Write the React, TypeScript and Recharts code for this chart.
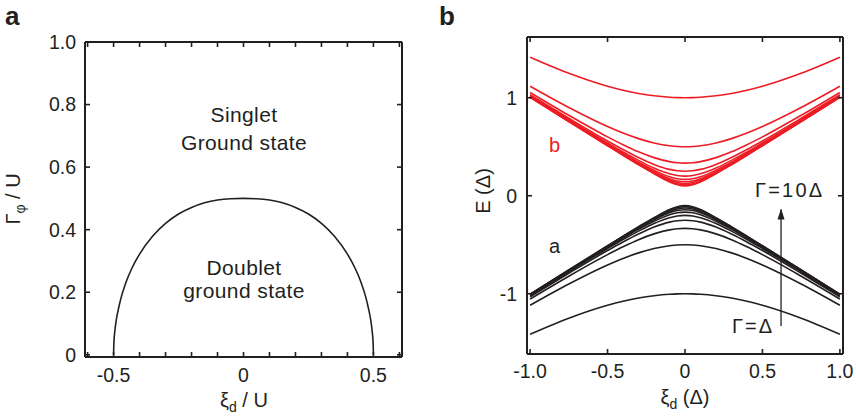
import React from 'react';
import { LineChart, Line, XAxis, YAxis } from 'recharts';

const INK = '#231f20';
const RED = '#ed1c24';
const FONT = '"Liberation Sans", Arial, Helvetica, sans-serif';

// panel a: phase boundary singlet / doublet
const phaseXi = [-0.5, -0.499, -0.495, -0.49, -0.48, -0.47, -0.45, -0.43, -0.4, -0.35, -0.3, -0.25, -0.2, -0.15, -0.1, -0.05, 0, 0.05, 0.1, 0.15, 0.2, 0.25, 0.3, 0.35, 0.4, 0.43, 0.45, 0.47, 0.48, 0.49, 0.495, 0.499, 0.5];
const phaseGamma = [0, 0.035, 0.077, 0.109, 0.152, 0.186, 0.237, 0.276, 0.322, 0.379, 0.42, 0.45, 0.471, 0.486, 0.495, 0.499, 0.5, 0.499, 0.495, 0.486, 0.471, 0.45, 0.42, 0.379, 0.322, 0.276, 0.237, 0.186, 0.152, 0.109, 0.077, 0.035, 0];

const aXTicks = [-0.6, -0.5, -0.4, -0.3, -0.2, -0.1, 0, 0.1, 0.2, 0.3, 0.4, 0.5, 0.6];
const aXLabelValues = [-0.5, 0, 0.5];
const aXLabelTexts = ['-0.5', '0', '0.5'];
const aYTicks = [0, 0.2, 0.4, 0.6, 0.8, 1.0];
const aYLabelTexts = ['0', '0.2', '0.4', '0.6', '0.8', '1.0'];

// panel b: Andreev levels vs ξd for Γ = Δ ... 10Δ
const bXi = [-1, -0.75, -0.5, -0.4, -0.3, -0.2, -0.1, -0.05, 0, 0.05, 0.1, 0.2, 0.3, 0.4, 0.5, 0.75, 1];

const upper1 = [1.414, 1.25, 1.118, 1.077, 1.044, 1.02, 1.005, 1.001, 1.0, 1.001, 1.005, 1.02, 1.044, 1.077, 1.118, 1.25, 1.414];
const upper2 = [1.118, 0.901, 0.707, 0.64, 0.583, 0.539, 0.51, 0.502, 0.5, 0.502, 0.51, 0.539, 0.583, 0.64, 0.707, 0.901, 1.118];
const upper3 = [1.054, 0.821, 0.601, 0.521, 0.448, 0.389, 0.348, 0.337, 0.333, 0.337, 0.348, 0.389, 0.448, 0.521, 0.601, 0.821, 1.054];
const upper4 = [1.031, 0.791, 0.559, 0.472, 0.391, 0.32, 0.269, 0.255, 0.25, 0.255, 0.269, 0.32, 0.391, 0.472, 0.559, 0.791, 1.031];
const upper5 = [1.02, 0.776, 0.539, 0.447, 0.361, 0.283, 0.224, 0.206, 0.2, 0.206, 0.224, 0.283, 0.361, 0.447, 0.539, 0.776, 1.02];
const upper6 = [1.014, 0.768, 0.527, 0.433, 0.343, 0.261, 0.194, 0.174, 0.167, 0.174, 0.194, 0.261, 0.343, 0.433, 0.527, 0.768, 1.014];
const upper7 = [1.01, 0.763, 0.52, 0.425, 0.332, 0.246, 0.174, 0.151, 0.143, 0.151, 0.174, 0.246, 0.332, 0.425, 0.52, 0.763, 1.01];
const upper8 = [1.008, 0.76, 0.515, 0.419, 0.325, 0.236, 0.16, 0.135, 0.125, 0.135, 0.16, 0.236, 0.325, 0.419, 0.515, 0.76, 1.008];
const upper9 = [1.006, 0.758, 0.512, 0.415, 0.32, 0.229, 0.149, 0.122, 0.111, 0.122, 0.149, 0.229, 0.32, 0.415, 0.512, 0.758, 1.006];
const upper10 = [1.005, 0.757, 0.51, 0.412, 0.316, 0.224, 0.141, 0.112, 0.1, 0.112, 0.141, 0.224, 0.316, 0.412, 0.51, 0.757, 1.005];

const lower1 = [-1.414, -1.25, -1.118, -1.077, -1.044, -1.02, -1.005, -1.001, -1.0, -1.001, -1.005, -1.02, -1.044, -1.077, -1.118, -1.25, -1.414];
const lower2 = [-1.118, -0.901, -0.707, -0.64, -0.583, -0.539, -0.51, -0.502, -0.5, -0.502, -0.51, -0.539, -0.583, -0.64, -0.707, -0.901, -1.118];
const lower3 = [-1.054, -0.821, -0.601, -0.521, -0.448, -0.389, -0.348, -0.337, -0.333, -0.337, -0.348, -0.389, -0.448, -0.521, -0.601, -0.821, -1.054];
const lower4 = [-1.031, -0.791, -0.559, -0.472, -0.391, -0.32, -0.269, -0.255, -0.25, -0.255, -0.269, -0.32, -0.391, -0.472, -0.559, -0.791, -1.031];
const lower5 = [-1.02, -0.776, -0.539, -0.447, -0.361, -0.283, -0.224, -0.206, -0.2, -0.206, -0.224, -0.283, -0.361, -0.447, -0.539, -0.776, -1.02];
const lower6 = [-1.014, -0.768, -0.527, -0.433, -0.343, -0.261, -0.194, -0.174, -0.167, -0.174, -0.194, -0.261, -0.343, -0.433, -0.527, -0.768, -1.014];
const lower7 = [-1.01, -0.763, -0.52, -0.425, -0.332, -0.246, -0.174, -0.151, -0.143, -0.151, -0.174, -0.246, -0.332, -0.425, -0.52, -0.763, -1.01];
const lower8 = [-1.008, -0.76, -0.515, -0.419, -0.325, -0.236, -0.16, -0.135, -0.125, -0.135, -0.16, -0.236, -0.325, -0.419, -0.515, -0.76, -1.008];
const lower9 = [-1.006, -0.758, -0.512, -0.415, -0.32, -0.229, -0.149, -0.122, -0.111, -0.122, -0.149, -0.229, -0.32, -0.415, -0.512, -0.758, -1.006];
const lower10 = [-1.005, -0.757, -0.51, -0.412, -0.316, -0.224, -0.141, -0.112, -0.1, -0.112, -0.141, -0.224, -0.316, -0.412, -0.51, -0.757, -1.005];

const upperCurves = [upper1, upper2, upper3, upper4, upper5, upper6, upper7, upper8, upper9, upper10];
const lowerCurves = [lower1, lower2, lower3, lower4, lower5, lower6, lower7, lower8, lower9, lower10];

const arrowXi = [0.62, 0.62];
const arrowE = [-1.33, -0.14];

const bXTicks = [-1, -0.5, 0, 0.5, 1];
const bXLabelTexts = ['-1.0', '-0.5', '0', '0.5', '1.0'];
const bYTicks = [-1, 0, 1];
const bYLabelTexts = ['-1', '0', '1'];

const toPoints = (xs: number[], ys: number[]) => xs.map((x, i) => ({ x, y: ys[i] }));

// label only; the tick marks themselves come from tickLine with a negative tickSize (inward)
const makeLabel =
  (anchor: 'middle' | 'end', values: number[] = [], texts: string[] = []) =>
  (props: any) => {
    const { x, y, payload } = props;
    const i = values.findIndex(v => Math.abs(v - payload.value) < 1e-9);
    if (i < 0) return <g />;
    return (
      <text x={x} y={y} dy="0.35em" textAnchor={anchor} fill={INK} fontSize={19.5} fontFamily={FONT}>
        {texts[i]}
      </text>
    );
  };
const noLabel = () => <g />;

const axisLine = { stroke: INK, strokeWidth: 2 };
const tickLine = { stroke: INK, strokeWidth: 1.6 };

const ArrowHead = (props: any) => {
  const { cx, cy, index } = props;
  if (index !== 1) return <g key={`ah${index}`} />;
  return <polygon key="ahead" points={`${cx},${cy - 1} ${cx - 3.5},${cy + 10} ${cx + 3.5},${cy + 10}`} fill={INK} />;
};

const PanelA = () => (
  <LineChart width={420} height={418} margin={{ top: 41, right: 17, bottom: 21, left: 25 }}>
    <XAxis xAxisId="b" type="number" dataKey="x" domain={[-0.61, 0.61]} allowDataOverflow ticks={aXTicks} interval={0}
      height={40} tickSize={-5} tickMargin={23} tickLine={tickLine} axisLine={axisLine}
      tick={makeLabel('middle', aXLabelValues, aXLabelTexts)} />
    <XAxis xAxisId="t" orientation="top" type="number" dataKey="x" domain={[-0.61, 0.61]} allowDataOverflow ticks={aXTicks} interval={0}
      height={1} tickSize={-5} tickMargin={0} tickLine={tickLine} axisLine={axisLine} tick={noLabel} />
    <YAxis yAxisId="l" type="number" domain={[-0.007, 1.0]} allowDataOverflow ticks={aYTicks} interval={0}
      width={60} tickSize={-5} tickMargin={14} tickLine={tickLine} axisLine={axisLine}
      tick={makeLabel('end', aYTicks, aYLabelTexts)} />
    <YAxis yAxisId="r" orientation="right" type="number" domain={[-0.007, 1.0]} allowDataOverflow ticks={aYTicks} interval={0}
      width={1} tickSize={-5} tickMargin={0} tickLine={tickLine} axisLine={axisLine} tick={noLabel} />
    <Line xAxisId="t" yAxisId="r" data={toPoints(phaseXi, phaseGamma)} dataKey="y" type="monotone"
      stroke="none" dot={false} isAnimationActive={false} />
    <Line xAxisId="b" yAxisId="l" data={toPoints(phaseXi, phaseGamma)} dataKey="y" type="monotone"
      stroke={INK} strokeWidth={1.6} dot={false} isAnimationActive={false} />
  </LineChart>
);

const PanelB = () => (
  <LineChart width={426} height={418} margin={{ top: 36, right: 12, bottom: 24, left: 37 }}>
    <XAxis xAxisId="b" type="number" dataKey="x" domain={[-1.02, 1.02]} allowDataOverflow ticks={bXTicks} interval={0}
      height={40} tickSize={-5} tickMargin={22.5} tickLine={tickLine} axisLine={axisLine}
      tick={makeLabel('middle', bXTicks, bXLabelTexts)} />
    <XAxis xAxisId="t" orientation="top" type="number" dataKey="x" domain={[-1.02, 1.02]} allowDataOverflow ticks={bXTicks} interval={0}
      height={1} tickSize={-5} tickMargin={0} tickLine={tickLine} axisLine={axisLine} tick={noLabel} />
    <YAxis yAxisId="l" type="number" domain={[-1.615, 1.62]} allowDataOverflow ticks={bYTicks} interval={0}
      width={60} tickSize={-5} tickMargin={15} tickLine={tickLine} axisLine={axisLine}
      tick={makeLabel('end', bYTicks, bYLabelTexts)} />
    <YAxis yAxisId="r" orientation="right" type="number" domain={[-1.615, 1.62]} allowDataOverflow ticks={bYTicks} interval={0}
      width={1} tickSize={-5} tickMargin={0} tickLine={tickLine} axisLine={axisLine} tick={noLabel} />
    <Line xAxisId="t" yAxisId="r" data={toPoints(bXi, upper1)} dataKey="y" type="monotone"
      stroke="none" dot={false} isAnimationActive={false} />
    {upperCurves.map((ys, k) => (
      <Line key={`u${k}`} xAxisId="b" yAxisId="l" data={toPoints(bXi, ys)} dataKey="y" type="monotone"
        stroke={RED} strokeWidth={1.6} dot={false} isAnimationActive={false} />
    ))}
    {lowerCurves.map((ys, k) => (
      <Line key={`l${k}`} xAxisId="b" yAxisId="l" data={toPoints(bXi, ys)} dataKey="y" type="monotone"
        stroke={INK} strokeWidth={1.6} dot={false} isAnimationActive={false} />
    ))}
    <Line xAxisId="b" yAxisId="l" data={toPoints(arrowXi, arrowE)} dataKey="y" type="linear"
      stroke={INK} strokeWidth={1.3} dot={<ArrowHead />} isAnimationActive={false} />
  </LineChart>
);

const txt = { fontFamily: FONT, fill: INK } as const;

export default function App() {
  return (
    <div style={{ position: 'absolute', left: 0, top: 0, width: 856, height: 418, background: '#fff', fontFamily: FONT }}>
      <div style={{ position: 'absolute', left: 0, top: 0 }}>
        <PanelA />
      </div>
      <div style={{ position: 'absolute', left: 430, top: 0 }}>
        <PanelB />
      </div>
      <svg width={856} height={418} style={{ position: 'absolute', left: 0, top: 0, pointerEvents: 'none' }}>
        <text x={5} y={25} fontSize={26} fontWeight="bold" {...txt}>a</text>
        <text x={439} y={25} fontSize={26} fontWeight="bold" {...txt}>b</text>

        <text x={244} y={121.5} textAnchor="middle" fontSize={21} letterSpacing={0.4} {...txt}>Singlet</text>
        <text x={244} y={150} textAnchor="middle" fontSize={21} letterSpacing={0.4} {...txt}>Ground state</text>
        <text x={244} y={275} textAnchor="middle" fontSize={21} letterSpacing={0.4} {...txt}>Doublet</text>
        <text x={244} y={298} textAnchor="middle" fontSize={21} letterSpacing={0.4} {...txt}>ground state</text>

        <text x={244} y={407} textAnchor="middle" fontSize={20} {...txt}>
          <tspan>ξ</tspan><tspan fontSize={14} dy={5}>d</tspan><tspan dy={-5}> / U</tspan>
        </text>
        <text transform="translate(20,199) rotate(-90)" textAnchor="middle" fontSize={20} {...txt}>
          <tspan>Γ</tspan><tspan fontSize={14} dy={5}>φ</tspan><tspan dy={-5}> / U</tspan>
        </text>

        <text x={685} y={404} textAnchor="middle" fontSize={20} {...txt}>
          <tspan>ξ</tspan><tspan fontSize={14} dy={5}>d</tspan><tspan dy={-5}> (Δ)</tspan>
        </text>
        <text transform="translate(490,191) rotate(-90)" textAnchor="middle" fontSize={20} {...txt}>E (Δ)</text>

        <text x={549} y={152} fontSize={20} fontFamily={FONT} fill={RED}>b</text>
        <text x={549} y={253} fontSize={20} {...txt}>a</text>
        <text x={755} y={197} fontSize={20} letterSpacing={2.2} {...txt}>Γ=10Δ</text>
        <text x={732} y={333} fontSize={20} letterSpacing={2} {...txt}>Γ=Δ</text>
      </svg>
    </div>
  );
}
